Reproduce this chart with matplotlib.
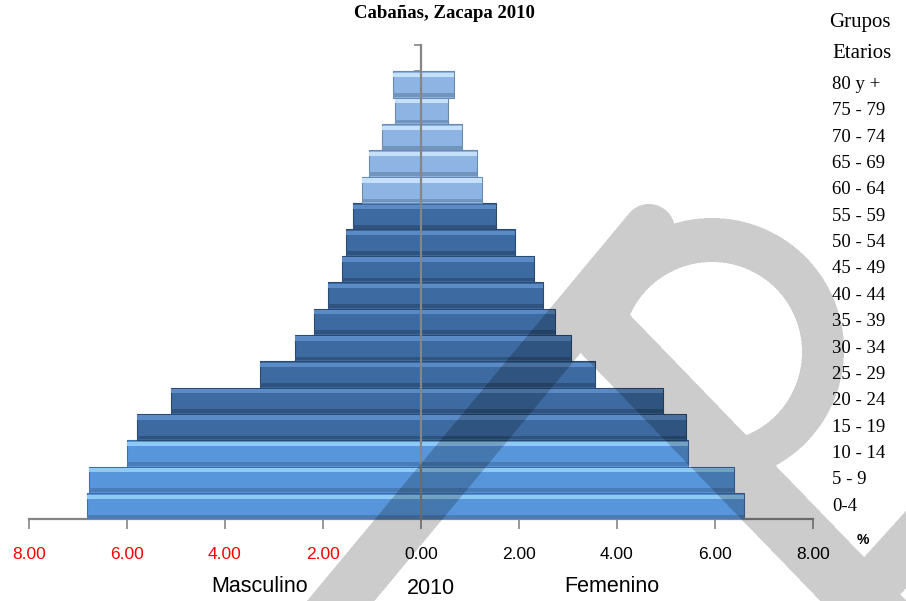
import numpy as np
import matplotlib.pyplot as plt

# Datos: porcentaje de población por grupo etario (Cabañas, Zacapa 2010)
grupos = ['0-4', '5 - 9', '10 - 14', '15 - 19', '20 - 24', '25 - 29', '30 - 34',
          '35 - 39', '40 - 44', '45 - 49', '50 - 54', '55 - 59', '60 - 64',
          '65 - 69', '70 - 74', '75 - 79', '80 y +']
masculino = [6.82, 6.78, 6.00, 5.80, 5.11, 3.29, 2.58, 2.19, 1.90, 1.62,
             1.54, 1.39, 1.21, 1.07, 0.80, 0.53, 0.58]
femenino = [6.60, 6.39, 5.44, 5.41, 4.93, 3.56, 3.07, 2.74, 2.48, 2.30,
            1.92, 1.53, 1.24, 1.14, 0.83, 0.56, 0.67]
tono = ['claro'] * 3 + ['oscuro'] * 9 + ['palido'] * 5
marcas_x = [-8, -6, -4, -2, 0, 2, 4, 6, 8]

# colores: base, brillo superior, sombra inferior, borde
colores = {
    'claro': ('#5896dc', '#8fcaf6', '#4a7cb8', '#3f6ea8'),
    'oscuro': ('#3d6aa0', '#5a8bc6', '#2f527e', '#2a4a72'),
    'palido': ('#8db4e2', '#c4e0fa', '#7394bd', '#6a8ab0'),
}

W, H = 906, 601
fig = plt.figure(figsize=(W / 100, H / 100), dpi=100)
ax = fig.add_axes([29 / W, (H - 519.3) / H, 784 / W, 474.3 / H])

y = np.arange(len(grupos))
base = [colores[t][0] for t in tono]
brillo = [colores[t][1] for t in tono]
sombra = [colores[t][2] for t in tono]
borde = [colores[t][3] for t in tono]
m = -np.array(masculino)
f = np.array(femenino)

for valores in (m, f):
    ax.barh(y, valores, height=1.0, color=base, edgecolor=borde, linewidth=0.8, zorder=2)
    ax.barh(y + 0.36, valores, height=0.16, color=brillo, linewidth=0, zorder=3)
    ax.barh(y - 0.40, valores, height=0.14, color=sombra, linewidth=0, zorder=3)

ax.set_xlim(-8, 8)
ax.set_ylim(-0.5, len(grupos) + 0.5)

gris = '#868686'
for lado in ('top', 'right'):
    ax.spines[lado].set_visible(False)
ax.spines['left'].set_position(('data', 0))
ax.spines['left'].set_color(gris)
ax.spines['left'].set_linewidth(1.6)
ax.spines['left'].set_zorder(5)
ax.spines['bottom'].set_color(gris)
ax.spines['bottom'].set_linewidth(1.6)

ax.set_yticks(np.arange(-0.5, len(grupos) + 1, 1))
ax.set_yticklabels([])
ax.tick_params(axis='y', direction='out', length=5, width=1.2, color=gris)

ax.set_xticks(marcas_x)
ax.set_xticklabels(['%.2f' % abs(v) for v in marcas_x], fontsize=12.5,
                   family='Liberation Sans')
for v, lab in zip(marcas_x, ax.get_xticklabels()):
    lab.set_color('red' if v < 0 else 'black')
ax.tick_params(axis='x', direction='out', length=7, width=1.2, color=gris, pad=13)

# etiquetas de grupos a la derecha
tr = ax.get_yaxis_transform()
for yi, g in zip(y, grupos):
    ax.text((832 - 29) / 784, yi, g, transform=tr, ha='left', va='center',
            fontsize=13.5, family='Liberation Serif')

fig.text(860 / W, 1 - 22 / H, 'Grupos', ha='center', va='center',
         fontsize=15, family='Liberation Serif')
fig.text(862 / W, 1 - 53 / H, 'Etarios', ha='center', va='center',
         fontsize=15, family='Liberation Serif')
fig.text(444 / W, 1 - 13 / H, 'Cabañas, Zacapa 2010', ha='center', va='center',
         fontsize=13.5, fontweight='bold', family='Liberation Serif')
fig.text(863 / W, 1 - 540 / H, '%', ha='center', va='center',
         fontsize=10, fontweight='bold', family='Liberation Sans')
fig.text(260 / W, 1 - 587 / H, 'Masculino', ha='center', va='center',
         fontsize=15.5, family='Liberation Sans')
fig.text(431 / W, 1 - 589 / H, '2010', ha='center', va='center',
         fontsize=15.5, family='Liberation Sans')
fig.text(612 / W, 1 - 587 / H, 'Femenino', ha='center', va='center',
         fontsize=15.5, family='Liberation Sans')

# marca de agua gris (forma aproximada)
ss = 2
gx, gy = np.meshgrid((np.arange(W * ss) + 0.5) / ss, (np.arange(H * ss) + 0.5) / ss)


def dist_seg(a, b):
    ax_, ay_ = a
    bx_, by_ = b
    dx, dy = bx_ - ax_, by_ - ay_
    t = np.clip(((gx - ax_) * dx + (gy - ay_) * dy) / (dx * dx + dy * dy), 0, 1)
    return np.hypot(gx - (ax_ + t * dx), gy - (ay_ + t * dy))


tallo = dist_seg((300, 650), (649, 230)) < 26
dc_ext = np.hypot(gx - 712, gy - 350)
dc_int = np.hypot(gx - 712, gy - 352)
p1 = np.array([632, 317])
d1 = np.array([116, 120]) / np.hypot(116, 120)
cruz = (gx - p1[0]) * d1[1] - (gy - p1[1]) * d1[0]
avance = (gx - p1[0]) * d1[0] + (gy - p1[1]) * d1[1]
hueco = (dc_int < 90) & (cruz > 0)
anillo = (dc_ext < 132) & ~hueco & (cruz > -62)
banda = (cruz <= 0) & (cruz > -62) & (avance > -60)
pata = dist_seg((815, 650), (960, 490)) < 26
mascara = (tallo | anillo | banda | pata).astype(float)
mascara = mascara.reshape(H, ss, W, ss).mean(axis=(1, 3))
rgba = np.zeros((H, W, 4))
rgba[..., 3] = mascara * 0.2

wax = fig.add_axes([0, 0, 1, 1], zorder=10)
wax.imshow(rgba, extent=(0, W, H, 0), aspect='auto', interpolation='nearest')
wax.set_xlim(0, W)
wax.set_ylim(H, 0)
wax.axis('off')

fig.savefig('out.png', dpi=100)
